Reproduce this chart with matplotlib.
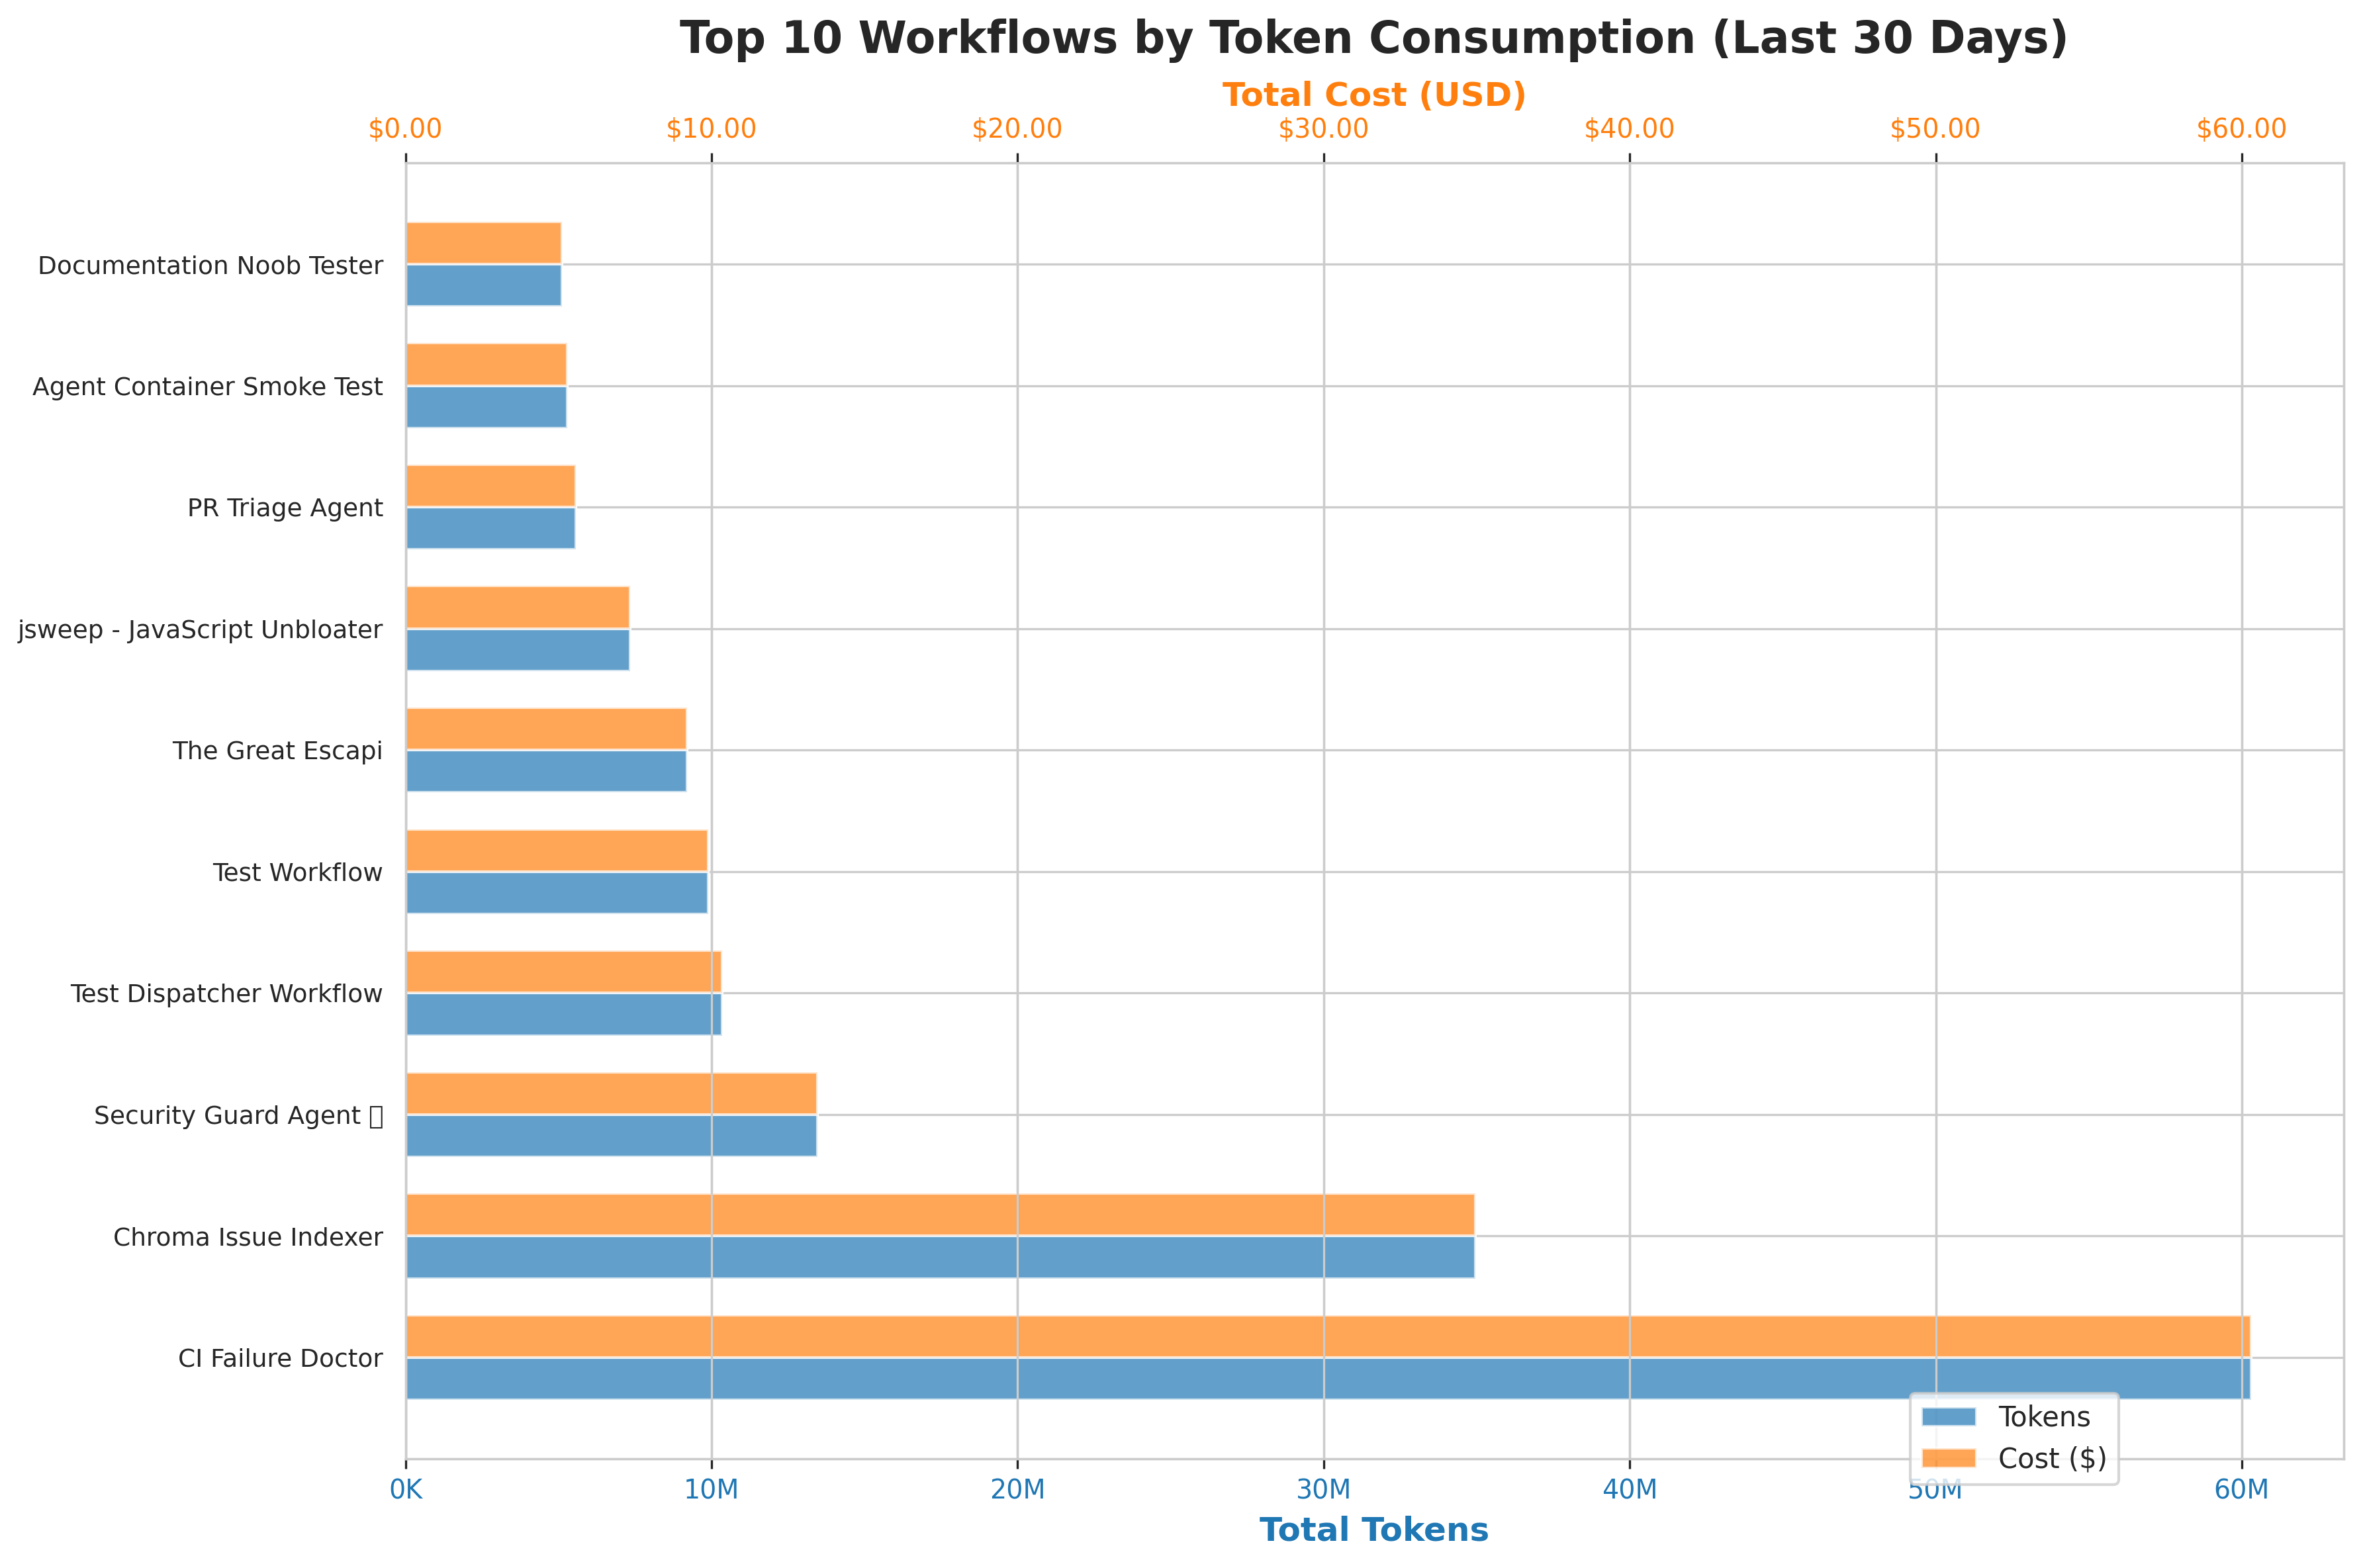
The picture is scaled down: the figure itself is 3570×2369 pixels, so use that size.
import matplotlib.pyplot as plt
import numpy as np
from matplotlib.ticker import FuncFormatter

# workflows, largest first (drawn from the bottom up)
workflows = [
    "CI Failure Doctor",
    "Chroma Issue Indexer",
    "Security Guard Agent \U0001F6E1",
    "Test Dispatcher Workflow",
    "Test Workflow",
    "The Great Escapi",
    "jsweep - JavaScript Unbloater",
    "PR Triage Agent",
    "Agent Container Smoke Test",
    "Documentation Noob Tester",
]
tokens = [60_310_000, 34_950_000, 13_470_000, 10_340_000, 9_900_000,
          9_210_000, 7_340_000, 5_570_000, 5_290_000, 5_120_000]
cost_usd = [60.31, 34.95, 13.47, 10.34, 9.90, 9.21, 7.34, 5.57, 5.29, 5.12]

BLUE = "#1f77b4"
ORANGE = "#ff7f0e"
TEXT = "#262626"
LIGHT = "#cccccc"


def token_fmt(x, pos):
    if x >= 1e6:
        return f"{x / 1e6:.0f}M"
    return f"{x / 1e3:.0f}K"


def cost_fmt(x, pos):
    return f"${x:,.2f}"


plt.rcParams["font.family"] = ["DejaVu Sans", "Noto Sans", "Noto Sans CJK SC",
                               "Liberation Sans"]
plt.rcParams["text.color"] = TEXT

fig, ax = plt.subplots(figsize=(11.9, 2369 / 300), dpi=300)
fig.subplots_adjust(left=0.1716, right=0.9918, top=0.8962, bottom=0.0696)

y = np.arange(len(workflows))
h = 0.35

ax.set_axisbelow(True)
ax.grid(True, color=LIGHT, linewidth=0.8)
b1 = ax.barh(y - h / 2, tokens, height=h, color=BLUE, alpha=0.7,
             edgecolor="white", linewidth=1, label="Tokens")
ax.set_xlim(0, max(tokens) * 1.05)
ax.xaxis.set_major_formatter(FuncFormatter(token_fmt))
ax.set_yticks(y)
ax.set_yticklabels(workflows, fontsize=9, color=TEXT)
ax.tick_params(axis="y", length=0, pad=8)
ax.tick_params(axis="x", labelcolor=BLUE, labelsize=9.5, length=3.5,
               width=0.8, color=TEXT)
ax.set_xlabel("Total Tokens", fontsize=12, fontweight="bold", color=BLUE)

ax2 = ax.twiny()
ax2.grid(True, color=LIGHT, linewidth=0.8)
b2 = ax2.barh(y + h / 2, cost_usd, height=h, color=ORANGE, alpha=0.7,
              edgecolor="white", linewidth=1, label="Cost ($)")
ax2.set_xlim(0, max(cost_usd) * 1.05)
ax2.xaxis.set_major_formatter(FuncFormatter(cost_fmt))
ax2.tick_params(axis="x", labelcolor=ORANGE, labelsize=9.5, length=3.5,
                width=0.8, color=TEXT)
ax2.set_xlabel("Total Cost (USD)", fontsize=12, fontweight="bold", color=ORANGE)

for a in (ax, ax2):
    for s in a.spines.values():
        s.set_color(LIGHT)
        s.set_linewidth(0.8)

ax.set_title("Top 10 Workflows by Token Consumption (Last 30 Days)",
             fontsize=16, fontweight="bold", color=TEXT, pad=10)

ax2.legend([b1, b2], ["Tokens", "Cost ($)"], loc="lower right",
           bbox_to_anchor=(0.884, -0.02), borderaxespad=0, fontsize=10,
           edgecolor=LIGHT)

fig.savefig("out.png", dpi=300)
